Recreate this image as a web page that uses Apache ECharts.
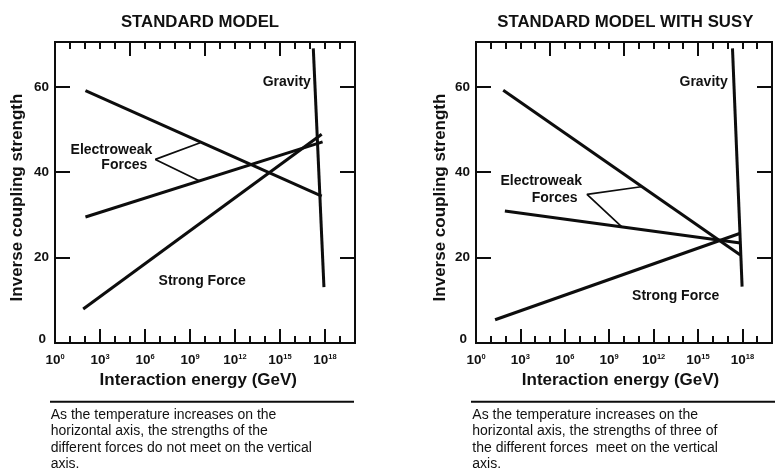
<!DOCTYPE html>
<html>
<head>
<meta charset="utf-8">
<script src="https://cdn.jsdelivr.net/npm/echarts@6/dist/echarts.min.js"></script>
<style>
  html, body { margin: 0; padding: 0; background: #ffffff; }
  #chart { width: 775px; height: 471px; }
</style>
</head>
<body>
<div id="chart"></div>
<script>
// Horizontal values are log10(E / GeV); vertical values are inverse coupling strengths.
const panelTitles = ['STANDARD MODEL', 'STANDARD MODEL WITH SUSY'];
const energyExponents = [0, 3, 6, 9, 12, 15, 18];
const strengthTicks = [0, 20, 40, 60];

// Standard Model running couplings
const smUpperElectroweak = [[2.03, 59.1], [17.78, 34.4]];
const smLowerElectroweak = [[2.03, 29.5], [17.84, 47.1]];
const smStrong = [[1.88, 7.95], [17.78, 48.9]];
const smGravity = [[17.22, 69.0], [17.93, 13.1]];
const smPointer = [[9.68, 46.9], [6.69, 43.0], [9.61, 38.0]];

// Supersymmetric extension
const susyUpperElectroweak = [[1.84, 59.2], [17.86, 20.6]];
const susyLowerElectroweak = [[1.95, 30.9], [17.86, 23.4]];
const susyStrong = [[1.29, 5.45], [17.86, 25.7]];
const susyGravity = [[17.33, 69.0], [17.98, 13.2]];
const susyPointer = [[11.16, 36.6], [7.50, 34.8], [9.89, 27.1]];

// Annotation text and the data point each one is centred on
const noteTexts = ['Gravity', 'Electroweak', 'Forces', 'Strong Force'];
const smNoteAnchors = [[15.45, 61.2], [3.76, 45.2], [4.62, 41.7], [9.81, 14.4]];
const susyNoteAnchors = [[15.38, 61.2], [4.41, 37.8], [5.31, 34.0], [13.49, 10.9]];

const captions = [
  'As the temperature increases on the\nhorizontal axis, the strengths of the\ndifferent forces do not meet on the vertical\naxis.',
  'As the temperature increases on the\nhorizontal axis, the strengths of three of\nthe different forces  meet on the vertical\naxis.'
];

const FONT = '"Liberation Sans", Arial, Helvetica, sans-serif';
const INK = '#0d0d0d';
const TEXT = '#111111';
const X_MAX = 20;
const Y_MAX = 70.5;

const panels = [
  { left: 55, lines: [smUpperElectroweak, smLowerElectroweak, smStrong, smGravity], pointer: smPointer, anchors: smNoteAnchors },
  { left: 476, lines: [susyUpperElectroweak, susyLowerElectroweak, susyStrong, susyGravity], pointer: susyPointer, anchors: susyNoteAnchors }
];

const grid = [], xAxis = [], yAxis = [], series = [];

function xAx(gi, position, interval, tickLen, withLabels) {
  return {
    type: 'value', gridIndex: gi, position: position, min: 0, max: X_MAX, interval: interval,
    axisLine: { show: true, onZero: false, lineStyle: { color: INK, width: 2 } },
    axisTick: { show: true, inside: true, length: tickLen, lineStyle: { color: INK, width: 2 } },
    splitLine: { show: false },
    axisLabel: withLabels ? {
      show: true, margin: 10, color: TEXT, fontFamily: FONT,
      formatter: v => energyExponents.indexOf(v) >= 0 ? '{b|10}{s|' + v + '}' : '',
      rich: {
        b: { fontSize: 13.5, fontWeight: 'bold', fontFamily: FONT, color: TEXT, lineHeight: 15 },
        s: { fontSize: 7.5, fontWeight: 'bold', fontFamily: FONT, color: TEXT, lineHeight: 7, verticalAlign: 'top' }
      }
    } : { show: false }
  };
}

function yAx(gi, position, withLabels) {
  return {
    type: 'value', gridIndex: gi, position: position, min: 0, max: Y_MAX, interval: 20,
    axisLine: { show: true, onZero: false, lineStyle: { color: INK, width: 2 } },
    axisTick: { show: true, inside: true, length: 15, lineStyle: { color: INK, width: 2 } },
    splitLine: { show: false },
    axisLabel: withLabels ? {
      show: true, margin: 6, color: TEXT, fontFamily: FONT, fontSize: 13.5, fontWeight: 'bold',
      formatter: v => v === 0 ? '{z|0}' : (strengthTicks.indexOf(v) >= 0 ? String(v) : ''),
      rich: { z: { fontSize: 13.5, fontWeight: 'bold', fontFamily: FONT, color: TEXT, padding: [0, 3, 8, 0] } }
    } : { show: false }
  };
}

panels.forEach((p, gi) => {
  grid.push({ left: p.left, top: 42, width: 300, height: 301 });
  const xBase = xAxis.length, yBase = yAxis.length;
  xAxis.push(xAx(gi, 'bottom', 3, 14, true));
  xAxis.push(xAx(gi, 'bottom', 1, 7, false));
  xAxis.push(xAx(gi, 'top', 5, 14, false));
  xAxis.push(xAx(gi, 'top', 1, 7, false));
  yAxis.push(yAx(gi, 'left', true));
  yAxis.push(yAx(gi, 'right', false));

  p.lines.forEach(d => series.push({
    type: 'line', xAxisIndex: xBase, yAxisIndex: yBase, data: d,
    symbol: 'none', silent: true, animation: false,
    lineStyle: { color: INK, width: 3 }
  }));
  series.push({
    type: 'line', xAxisIndex: xBase, yAxisIndex: yBase, data: p.pointer,
    symbol: 'none', silent: true, animation: false,
    lineStyle: { color: INK, width: 1.7 }
  });
});

const titleCenters = [200, 625.3];
const xNameCenters = [198.3, 620.5];
const yNameCenters = [17.5, 440];
const captionLefts = [50.7, 472.3];
const ruleSpans = [[50, 354], [471, 777]];

const graphic = [];
panels.forEach((p, i) => {
  graphic.push({ type: 'text', x: titleCenters[i], y: 22.7, silent: true,
    style: { text: panelTitles[i], font: 'bold 16.8px ' + FONT, fill: TEXT, textAlign: 'center', textVerticalAlign: 'middle' } });
  graphic.push({ type: 'text', x: xNameCenters[i], y: 380, silent: true,
    style: { text: 'Interaction energy (GeV)', font: 'bold 17px ' + FONT, fill: TEXT, textAlign: 'center', textVerticalAlign: 'middle' } });
  graphic.push({ type: 'text', x: yNameCenters[i], y: 197.5, rotation: Math.PI / 2, silent: true,
    style: { text: 'Inverse coupling strength', font: 'bold 17px ' + FONT, fill: TEXT, textAlign: 'center', textVerticalAlign: 'middle' } });
  graphic.push({ type: 'line', silent: true,
    shape: { x1: ruleSpans[i][0], y1: 401.7, x2: ruleSpans[i][1], y2: 401.7 },
    style: { stroke: INK, lineWidth: 2 } });
  graphic.push({ type: 'text', x: captionLefts[i], y: 406.8, silent: true,
    style: { text: captions[i], font: '14px ' + FONT, fill: TEXT, textAlign: 'left', textVerticalAlign: 'top', lineHeight: 16.4 } });
});

const chart = echarts.init(document.getElementById('chart'), null, { renderer: 'canvas' });
chart.setOption({
  backgroundColor: '#ffffff',
  animation: false,
  grid: grid,
  xAxis: xAxis,
  yAxis: yAxis,
  series: series,
  graphic: graphic
});

// Place the force annotations through each panel's own coordinate system
panels.forEach((p, gi) => {
  p.anchors.forEach((a, i) => {
    const pt = chart.convertToPixel({ gridIndex: gi }, a);
    graphic.push({ type: 'text', x: pt[0], y: pt[1], silent: true,
      style: { text: noteTexts[i], font: 'bold 14px ' + FONT, fill: TEXT, textAlign: 'center', textVerticalAlign: 'middle' } });
  });
});
chart.setOption({ graphic: graphic });
</script>
</body>
</html>
